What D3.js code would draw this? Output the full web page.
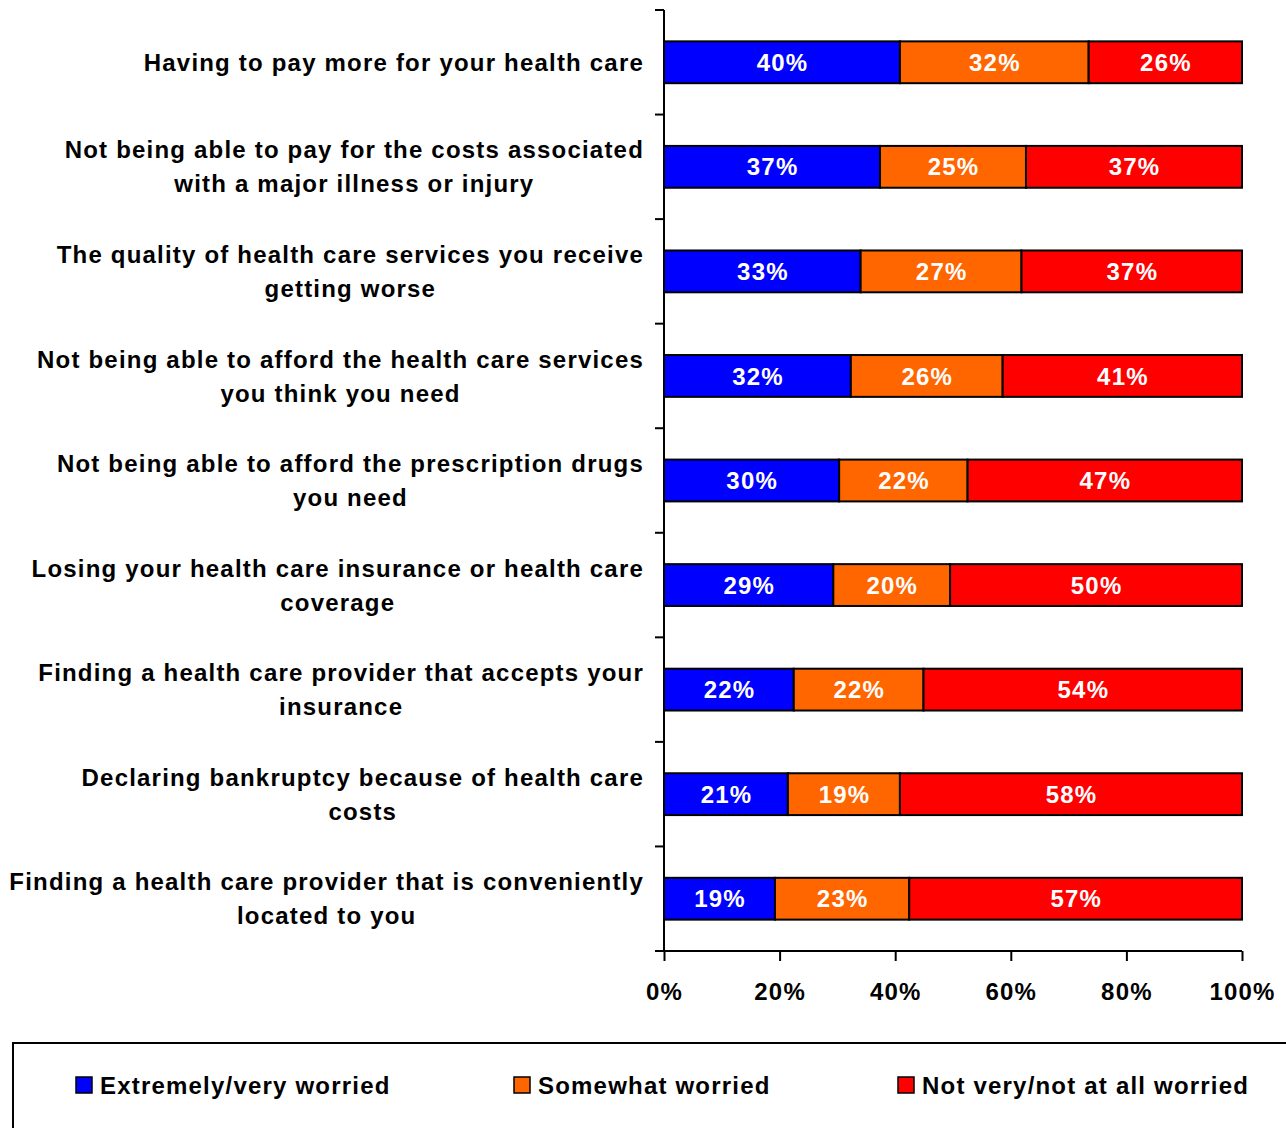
<!DOCTYPE html>
<html>
<head>
<meta charset="utf-8">
<script src="https://cdn.jsdelivr.net/npm/d3@7"></script>
<style>
  html, body { margin: 0; padding: 0; background: #fff; }
  svg { display: block; font-family: "Liberation Sans", Arial, sans-serif; font-weight: bold; letter-spacing: 1.2px; }
</style>
</head>
<body>
<svg id="chart" width="1286" height="1128"></svg>
<script>
// Worry about health care issues, share of respondents per answer
const categories = [
  ["Having to pay more for your health care"],
  ["Not being able to pay for the costs associated", "with a major illness or injury"],
  ["The quality of health care services you receive", "getting worse"],
  ["Not being able to afford the health care services", "you think you need"],
  ["Not being able to afford the prescription drugs", "you need"],
  ["Losing your health care insurance or health care", "coverage"],
  ["Finding a health care provider that accepts your", "insurance"],
  ["Declaring bankruptcy because of health care", "costs"],
  ["Finding a health care provider that is conveniently", "located to you"]
];
const seriesNames = ["Extremely/very worried", "Somewhat worried", "Not very/not at all worried"];
const extremely = [40, 37, 33, 32, 30, 29, 22, 21, 19];
const somewhat  = [32, 25, 27, 26, 22, 20, 22, 19, 23];
const notVery   = [26, 37, 37, 41, 47, 50, 54, 58, 57];
const xTicks = [0, 20, 40, 60, 80, 100];
const colors = ["#0000ff", "#ff6600", "#ff0000"];

const svg = d3.select("#chart");
const plotLeft = 664, plotRight = 1242, plotTop = 10, plotBottom = 951;

const rows = categories.map((c, i) => ({ i, vals: [extremely[i], somewhat[i], notVery[i]] }));

const x = d3.scaleLinear().domain([0, 100]).range([plotLeft, plotRight]);
const y = d3.scaleBand().domain(d3.range(categories.length)).range([plotTop, plotBottom]).paddingInner(0.6).paddingOuter(0.3);
const yOuter = d3.scaleBand().domain(d3.range(categories.length)).range([plotTop, plotBottom]);

// bars, each row scaled to 100%
rows.forEach(r => {
  const total = d3.sum(r.vals);
  let acc = 0;
  const segs = r.vals.map((v, k) => {
    const s = { k, v, x0: acc / total * 100, x1: (acc + v) / total * 100 };
    acc += v;
    return s;
  });
  const g = svg.append("g");
  g.selectAll("rect").data(segs).join("rect")
    .attr("x", d => x(d.x0))
    .attr("y", y(r.i))
    .attr("width", d => x(d.x1) - x(d.x0))
    .attr("height", y.bandwidth())
    .attr("fill", d => colors[d.k])
    .attr("stroke", "#000")
    .attr("stroke-width", 2);
  g.selectAll("text").data(segs).join("text")
    .attr("x", d => (x(d.x0) + x(d.x1)) / 2 + 0.6)
    .attr("y", y(r.i) + y.bandwidth() / 2)
    .attr("dy", "0.36em")
    .attr("text-anchor", "middle")
    .attr("fill", "#fff")
    .style("font-size", "24px")
    .text(d => d.v + "%");
});

// y axis with ticks at band boundaries
const yAxis = svg.append("g");
yAxis.append("line").attr("x1", plotLeft).attr("x2", plotLeft).attr("y1", plotTop).attr("y2", plotBottom)
  .attr("stroke", "#000").attr("stroke-width", 2);
yAxis.selectAll("line.t").data(d3.range(categories.length + 1)).join("line").attr("class", "t")
  .attr("x1", plotLeft - 9).attr("x2", plotLeft)
  .attr("y1", i => i < categories.length ? yOuter(i) : plotBottom)
  .attr("y2", i => i < categories.length ? yOuter(i) : plotBottom)
  .attr("stroke", "#000").attr("stroke-width", 2);

// x axis
const xAxisG = svg.append("g").attr("transform", `translate(0,${plotBottom})`)
  .call(d3.axisBottom(x).tickValues(xTicks).tickFormat(d => d + "%").tickSize(10).tickSizeOuter(0).tickPadding(22));
xAxisG.select(".domain").attr("stroke", "#000").attr("stroke-width", 2).attr("d", `M${plotLeft - 9},0H${plotRight}`);
xAxisG.selectAll(".tick line").attr("stroke", "#000").attr("stroke-width", 2);
xAxisG.selectAll(".tick text")
  .attr("fill", "#000")
  .style("font-family", "Liberation Sans, Arial, sans-serif")
  .style("font-weight", "bold")
  .style("letter-spacing", "1.2px")
  .style("font-size", "24px");

// category labels: block right-aligned, lines centered within the block
const labelRight = 644, lineH = 34;
categories.forEach((lines, i) => {
  const cy = yOuter(i) + yOuter.bandwidth() / 2;
  const g = svg.append("g");
  const texts = lines.map((t, j) => g.append("text")
    .attr("y", cy + (j - (lines.length - 1) / 2) * lineH)
    .attr("dy", "0.36em")
    .attr("text-anchor", "middle")
    .attr("fill", "#000")
    .style("font-size", "24px")
    .text(t));
  const w = d3.max(texts, t => t.node().getComputedTextLength());
  texts.forEach(t => t.attr("x", labelRight - w / 2));
});

// legend
svg.append("rect").attr("x", 13).attr("y", 1043).attr("width", 1290).attr("height", 100)
  .attr("fill", "none").attr("stroke", "#000").attr("stroke-width", 2);
const legendX = [76, 514, 898];
const leg = svg.selectAll("g.leg").data(seriesNames).join("g").attr("class", "leg")
  .attr("transform", (d, i) => `translate(${legendX[i]},1077)`);
leg.append("rect").attr("width", 16).attr("height", 16)
  .attr("fill", (d, i) => colors[i]).attr("stroke", "#000").attr("stroke-width", 1.5);
leg.append("text").attr("x", 24).attr("y", 8).attr("dy", "0.36em")
  .attr("fill", "#000").style("font-size", "24px").text(d => d);
</script>
</body>
</html>
